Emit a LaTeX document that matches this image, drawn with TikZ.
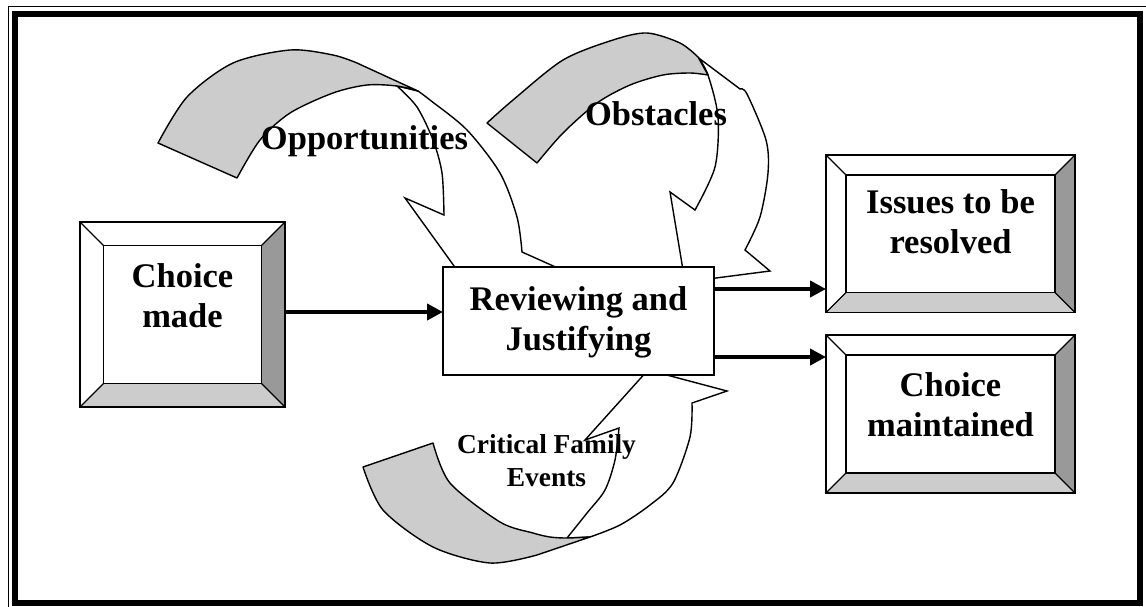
\documentclass[tikz,border=0pt]{standalone}
\usepackage{fontspec}
\setmainfont{Liberation Serif}
\usetikzlibrary{arrows.meta,calc,fit}
\definecolor{bandgray}{HTML}{CCCCCC}
\definecolor{bevdark}{HTML}{999999}
\definecolor{bevlight}{HTML}{CCCCCC}
\newcommand\bevelbox[6]{%
  \coordinate (#1-nw) at (#2,#3);
  \coordinate (#1-se) at (#4,#5);
  \node[bevelframe, fit=(#1-nw)(#1-se)] (#1) {};
  \fill[bevdark] (#1.north east) -- (#1.south east) -- ($(#1.south east)+(-#6,-#6)$) -- ($(#1.north east)+(-#6,#6)$) -- cycle;
  \fill[bevlight] (#1.south west) -- (#1.south east) -- ($(#1.south east)+(-#6,-#6)$) -- ($(#1.south west)+(#6,-#6)$) -- cycle;
  \draw[line width=1.5pt, line join=miter] (#1.north west) rectangle (#1.south east);
  \draw[line width=1.5pt] ($(#1.north west)+(#6,#6)$) rectangle ($(#1.south east)+(-#6,-#6)$);
  \draw[line width=1.2pt] (#1.north west) -- ($(#1.north west)+(#6,#6)$)
    (#1.north east) -- ($(#1.north east)+(-#6,#6)$)
    (#1.south east) -- ($(#1.south east)+(-#6,-#6)$)
    (#1.south west) -- ($(#1.south west)+(#6,-#6)$);
}
\begin{document}
\begin{tikzpicture}[x=1pt,y=-1pt,
  band/.style={fill=bandgray, draw=black, line width=1.4pt, line join=round},
  face/.style={fill=white, draw=black, line width=1.4pt, line join=miter},
  bevelframe/.style={draw=black, line width=1.5pt, inner sep=0pt, outer sep=0pt, fill=white},
  revbox/.style={draw=black, line width=1.6pt, inner sep=0pt, outer sep=0pt, fill=white},
  conn/.style={line width=4pt, -{Triangle[length=16pt,width=16pt]}},
  lbl/.style={font=\bfseries\fontsize{34.5}{40}\selectfont, align=center, inner sep=0pt, anchor=base},
  smalllbl/.style={lbl, font=\bfseries\fontsize{27.4}{33}\selectfont}]
\useasboundingbox (0,0) rectangle (1146,606);
\fill[white] (0,0) rectangle (1146,606);
% frame
\draw[line width=1pt] (8.3,6.7) rectangle (1160,620);
\draw[line width=6pt] (15,13.8) rectangle (1140,603);

% Opportunities curved arrow
\draw[face] plot[smooth] coordinates {(397,86) (417,107) (433,140) (442,173) (444,215)}
  -- (405,198) -- (462,277) -- (560,269) -- (522,252)
  -- plot[smooth] coordinates {(522,252) (517,217) (500,173) (467,130) (430,100) (418,91)} -- cycle;
\draw[band] plot[smooth] coordinates {(158,143) (187,97) (233,63) (290,50) (333,55) (357,63)}
  -- (418,91)
  -- plot[smooth] coordinates {(418,91) (397,86) (367,85) (333,93) (290,113) (260,140) (237,178)} -- cycle;

% Obstacles curved arrow
\draw[face] plot[smooth] coordinates {(698,57) (708,75) (718,117) (715,167) (695,210)}
  -- (670,192) -- (685,282) -- (770,271) -- (745,250)
  -- plot[smooth] coordinates {(745,250) (760,217) (768,173) (766,140) (747,94) (740,89)} -- (700,59) -- cycle;
\draw[band] plot[smooth] coordinates {(487,123) (513,100) (563,60) (613,40) (647,33) (680,43) (698,57)}
  -- (708,75)
  -- plot[smooth] coordinates {(708,75) (690,73) (663,75) (630,85) (597,103) (563,133) (537,163)} -- cycle;

% Critical family events curved arrow
\draw[face] plot[smooth] coordinates {(567,538) (587,513) (605,490) (615,460) (619,428)}
  -- (585,440) -- (648,370) -- (727,391) -- (692,403)
  -- plot[smooth] coordinates {(692,403) (690,437) (673,483) (650,505) (620,525) (590,537)} -- cycle;
\draw[band] plot[smooth] coordinates {(363,467) (383,510) (433,547) (490,563) (537,555)}
  -- (590,537)
  -- plot[smooth] coordinates {(590,537) (567,538) (550,537) (533,533) (500,522) (450,483) (433,443)} -- cycle;

% boxes
\bevelbox{choice}{80}{222}{285}{407}{23.5}
\bevelbox{issues}{826}{155}{1075}{312.5}{20}
\bevelbox{maintained}{826}{335}{1075}{493}{20}
\coordinate (rv-nw) at (443,267);
\coordinate (rv-se) at (714,375);
\node[revbox, fit=(rv-nw)(rv-se)] (review) {};

% connectors
\coordinate (ya) at (0,312);
\coordinate (yb) at (0,289);
\coordinate (yc) at (0,357);
\draw[conn] (choice.east |- ya) -- (review.west |- ya);
\draw[conn] (review.east |- yb) -- (issues.west |- yb);
\draw[conn] (review.east |- yc) -- (maintained.west |- yc);

% texts (anchor base = baseline of the last line)
\node[lbl] (choicetxt) at (182.5,327) {Choice\\made};
\node[lbl] (reviewtxt) at (578.5,350) {Reviewing and\\Justifying};
\node[lbl] (issuestxt) at (950.5,253) {Issues to be\\resolved};
\node[lbl] (maintxt) at (950.5,436) {Choice\\maintained};
\node[lbl] (opptxt) at (364.5,149) {Opportunities};
\node[lbl] (obstxt) at (656,125) {Obstacles};
\node[smalllbl] (crittxt) at (546.5,486) {Critical Family\\Events};
\end{tikzpicture}
\end{document}
